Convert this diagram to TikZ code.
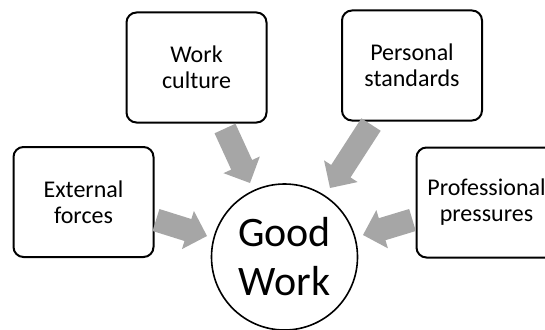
\documentclass[tikz,border=0pt]{standalone}
\usepackage{fontspec}
\setmainfont{Carlito}
\usetikzlibrary{calc}
\definecolor{arrowgray}{RGB}{166,166,166}
\tikzset{
  box/.style={draw=black, line width=2pt, rounded corners=10pt, fill=white,
    minimum width=140pt, minimum height=110pt, align=center,
    font=\fontsize{24}{26}\selectfont, inner sep=1pt},
  hub/.style={draw=black, line width=1.6pt, circle, minimum size=146pt,
    align=center, font=\fontsize{42}{49}\selectfont, inner sep=0pt},
}
% block arrow: #1 start (shaft centre), #2 tip
\newcommand{\blockarrow}[2]{%
  \coordinate (ab) at ($(#2)!20pt!(#1)$);
  \fill[arrowgray] ($(#1)!11.5pt!90:(#2)$) -- ($(ab)!11.5pt!90:(#2)$)
    -- ($(ab)!20pt!90:(#2)$) -- (#2) -- ($(ab)!20pt!-90:(#2)$)
    -- ($(ab)!11.5pt!-90:(#2)$) -- ($(#1)!11.5pt!-90:(#2)$) -- cycle;}
\begin{document}
\begin{tikzpicture}[x=1pt,y=-1pt]
\useasboundingbox (0,0) rectangle (545,329);
\node[box] (wc) at (196.5,67.5) {Work\\culture};
\node[box] (ps) at (412,65.5) {Personal\\standards};
\node[box] (ef) at (83.5,202) {External\\forces};
\node[box] (pp) at (486.5,202.5) {Professional\\pressures};
\node[hub] (gw) at (284.5,257) {Good\\Work};
% arrow end points
\coordinate (wcs) at ($(wc.south)+(28.5,5)$);
\coordinate (wct) at ($(gw.center)+(-34.5,-74)$);
\coordinate (pss) at ($(ps.south)+(-41,3)$);
\coordinate (pst) at ($(gw.center)+(45.5,-69)$);
\coordinate (efs) at ($(ef.east)+(1.5,18)$);
\coordinate (eft) at ($(gw.center)+(-77.5,-21)$);
\coordinate (pps) at ($(pp.west)+(-3,17.5)$);
\coordinate (ppt) at ($(gw.center)+(78.5,-22)$);
\blockarrow{wcs}{wct}
\blockarrow{pss}{pst}
\blockarrow{efs}{eft}
\blockarrow{pps}{ppt}
\end{tikzpicture}
\end{document}
